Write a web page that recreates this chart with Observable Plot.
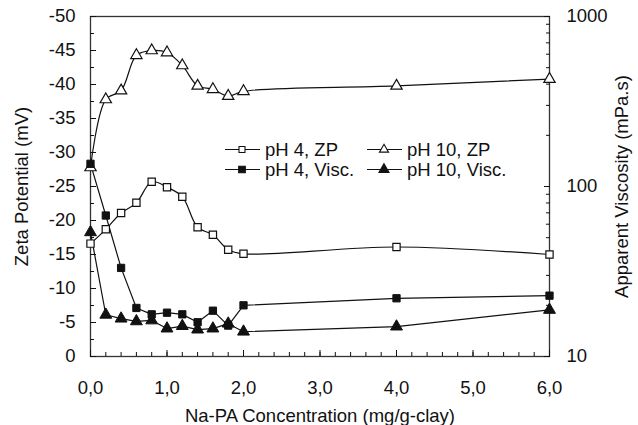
<!DOCTYPE html>
<html><head><meta charset="utf-8">
<script src="https://cdn.jsdelivr.net/npm/d3@7"></script>
<script src="https://cdn.jsdelivr.net/npm/@observablehq/plot@0.6"></script>
<style>
body{margin:0;background:#fff;font-family:"Liberation Sans",Arial,Helvetica,sans-serif;}
#wrap{position:relative;width:638px;height:425px;}
#legend{position:absolute;left:0;top:0;width:638px;height:425px;pointer-events:none;}
</style></head><body><div id="wrap"></div>
<script>
const conc = [0, 0.2, 0.4, 0.6, 0.8, 1.0, 1.2, 1.4, 1.6, 1.8, 2.0, 4.0, 6.0];
const zpPH4 = [-16.6, -18.7, -21.1, -22.6, -25.7, -24.9, -23.5, -19.0, -17.9, -15.7, -15.1, -16.1, -15.0];
const zpPH10 = [-27.8, -37.8, -39.1, -44.3, -45.0, -44.7, -42.8, -39.8, -39.3, -38.3, -39.0, -39.8, -40.8];
const viscPH4 = [136, 67.5, 33.2, 19.3, 17.7, 18.1, 17.7, 15.9, 18.6, 15.2, 20.0, 22.0, 22.8];
const viscPH10 = [53.8, 17.6, 16.7, 16.1, 16.3, 14.6, 15.1, 14.4, 14.6, 15.6, 14.0, 15.0, 18.8];
const xTicks = [0, 1, 2, 3, 4, 5, 6];
const xMinorTicks = d3.range(0, 6.001, 0.2).map(v => +v.toFixed(1));
const zpTicks = [0, -5, -10, -15, -20, -25, -30, -35, -40, -45, -50];
const zpMinorTicks = [-2.5, -7.5, -12.5, -17.5, -22.5, -27.5, -32.5, -37.5, -42.5, -47.5];
const viscTicks = [10, 100, 1000];
const viscMinorTicks = [20, 30, 40, 50, 60, 70, 80, 90, 200, 300, 400, 500, 600, 700, 800, 900];
const seriesNames = ["pH 4, ZP", "pH 10, ZP", "pH 4, Visc.", "pH 10, Visc."];

// map viscosity (log scale 10..1000) onto the zeta axis (0..-50)
const toY = v => -25 * (Math.log10(v) - 1);
const fromY = y => String(Math.round(Math.pow(10, 1 - y / 25)));

const rows = conc.map((c, i) => ({
  c, zp4: zpPH4[i], zp10: zpPH10[i], v4: toY(viscPH4[i]), v10: toY(viscPH10[i])
}));

const font = '"Liberation Sans", Arial, Helvetica, sans-serif';
const fmtX = d => d.toFixed(1).replace(".", ",");

const chart = Plot.plot({
  width: 638, height: 425,
  marginLeft: 90, marginRight: 89, marginTop: 16, marginBottom: 69,
  style: {fontFamily: font, fontSize: "18.5px", color: "#111", background: "#fff"},
  x: {domain: [0, 6]},
  y: {domain: [0, -50]},
  marks: [
    Plot.frame({stroke: "#333", strokeWidth: 1.3}),
    // x axis
    Plot.axisX(xTicks, {anchor: "bottom", tickSize: -6, text: null, label: null}),
    Plot.axisX(xMinorTicks, {anchor: "bottom", tickSize: -4, text: null, label: null}),
    Plot.axisX(xTicks, {anchor: "bottom", tickSize: 0, tickPadding: 24, tickFormat: fmtX,
      label: "Na-PA Concentration (mg/g-clay)", labelAnchor: "center", labelOffset: 65, labelArrow: "none"}),
    // left axis
    Plot.axisY(zpTicks, {anchor: "left", tickSize: -6, text: null, label: null}),
    Plot.axisY(zpMinorTicks, {anchor: "left", tickSize: -4, text: null, label: null}),
    Plot.axisY(zpTicks, {anchor: "left", tickSize: 0, tickPadding: 15, tickFormat: d => String(d),
      label: "Zeta Potential (mV)", labelAnchor: "center", labelOffset: 76, labelArrow: "none"}),
    // right axis (log viscosity)
    Plot.axisY(viscTicks.map(toY), {anchor: "right", tickSize: -6, text: null, label: null}),
    Plot.axisY(viscMinorTicks.map(toY), {anchor: "right", tickSize: -4, text: null, label: null}),
    Plot.axisY(viscTicks.map(toY), {anchor: "right", tickSize: 0, tickPadding: 17, tickFormat: fromY,
      label: "Apparent Viscosity (mPa.s)", labelAnchor: "center", labelOffset: 78, labelArrow: "none"}),
    // series
    Plot.line(rows, {x: "c", y: "zp4", curve: "catmull-rom", stroke: "#111", strokeWidth: 1.2}),
    Plot.line(rows, {x: "c", y: "zp10", curve: "catmull-rom", stroke: "#111", strokeWidth: 1.2}),
    Plot.line(rows, {x: "c", y: "v4", stroke: "#111", strokeWidth: 1.2}),
    Plot.line(rows, {x: "c", y: "v10", stroke: "#111", strokeWidth: 1.2}),
    Plot.dot(rows, {x: "c", y: "zp4", symbol: "square", r: 4.1, fill: "white", stroke: "#111", strokeWidth: 1.2}),
    Plot.dot(rows, {x: "c", y: "zp10", symbol: "triangle", r: 4.2, fill: "white", stroke: "#111", strokeWidth: 1.2}),
    Plot.dot(rows, {x: "c", y: "v4", symbol: "square", r: 4.1, fill: "#111", stroke: "#111", strokeWidth: 1}),
    Plot.dot(rows, {x: "c", y: "v10", symbol: "triangle", r: 4.4, fill: "#111", stroke: "#111", strokeWidth: 1})
  ]
});

const wrap = document.getElementById("wrap");
wrap.appendChild(chart);

// legend overlay
const legendItems = [
  {name: seriesNames[0], col: 0, row: 0, sym: d3.symbolSquare, fill: "white", size: 36},
  {name: seriesNames[1], col: 1, row: 0, sym: d3.symbolTriangle, fill: "white", size: 36},
  {name: seriesNames[2], col: 0, row: 1, sym: d3.symbolSquare, fill: "#111", size: 44},
  {name: seriesNames[3], col: 1, row: 1, sym: d3.symbolTriangle, fill: "#111", size: 44}
];
const colX = [225, 367];
const rowY = [149.5, 169.5];
const lg = d3.select(wrap).append("svg").attr("id", "legend").attr("width", 638).attr("height", 425);
legendItems.forEach(it => {
  const x0 = colX[it.col], y0 = rowY[it.row];
  const g = lg.append("g").attr("transform", `translate(${x0},${y0})`);
  g.append("line").attr("x1", 0).attr("x2", 35).attr("y1", 0).attr("y2", 0).attr("stroke", "#111").attr("stroke-width", 1.2);
  g.append("path").attr("d", d3.symbol(it.sym, it.size)()).attr("transform", "translate(17,0)")
    .attr("fill", it.fill).attr("stroke", "#111").attr("stroke-width", 1.1);
  g.append("text").attr("x", 40).attr("y", 0).attr("dy", "0.36em").attr("font-family", font)
    .attr("font-size", 18.5).attr("fill", "#111").text(it.name);
});
</script></body></html>
